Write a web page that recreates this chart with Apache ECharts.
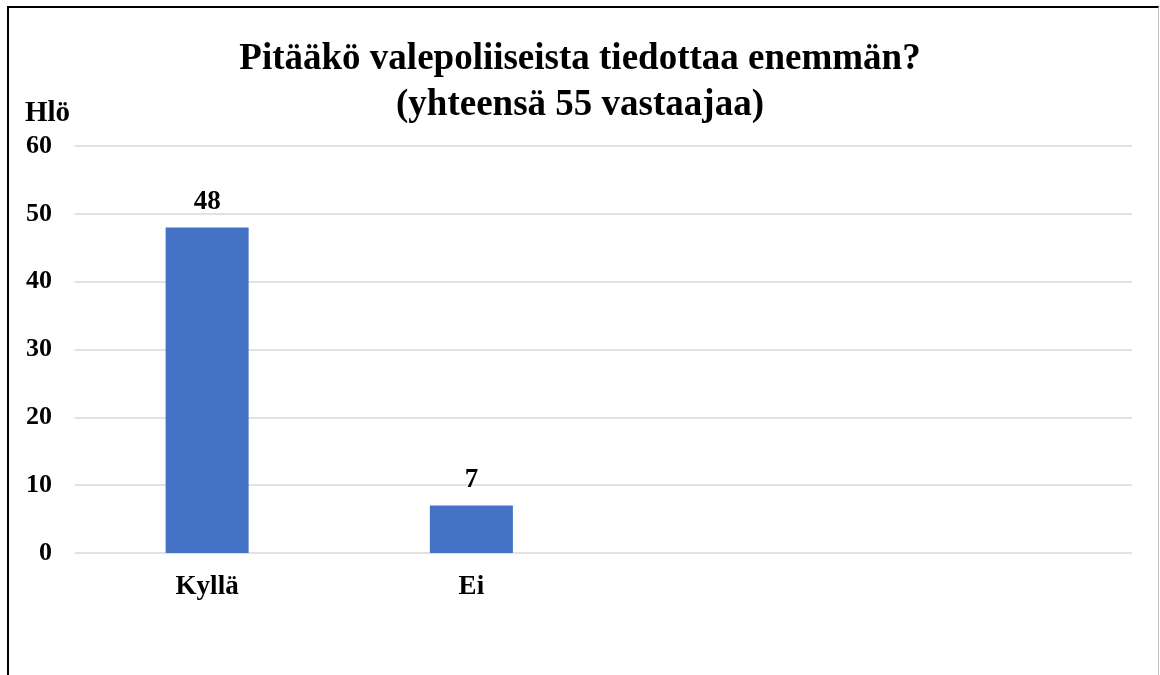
<!DOCTYPE html>
<html>
<head>
<meta charset="utf-8">
<script src="https://cdn.jsdelivr.net/npm/echarts@6/dist/echarts.min.js"></script>
<style>
  html, body { margin: 0; padding: 0; background: #fff; overflow: hidden; }
  #frame {
    position: absolute; left: 7px; top: 6px; width: 1149px; height: 700px;
    border-top: 2px solid #000; border-left: 2px solid #000; border-right: 1px solid #bfbfbf;
  }
  #chart { position: absolute; left: 0; top: 0; width: 1160px; height: 675px; }
</style>
</head>
<body>
<div id="frame"></div>
<div id="chart"></div>
<script>
'use strict';

var categories = ['Kyllä', 'Ei', '', ''],
    answers = [48, 7],
    yTicks = [0, 10, 20, 30, 40, 50, 60];

var chart = echarts.init(document.getElementById('chart'));

var serif = '"Liberation Serif", "DejaVu Serif", serif';

var option = {
    backgroundColor: 'transparent',
    animation: false,
    title: [{
        text: 'Pitääkö valepoliiseista tiedottaa enemmän?\n(yhteensä 55 vastaajaa)',
        left: 'center',
        top: 31,
        textStyle: {
            fontFamily: serif,
            fontWeight: 'bold',
            fontSize: 37,
            lineHeight: 46,
            color: '#000'
        }
    }, {
        text: 'Hlö',
        left: 20,
        top: 94,
        textStyle: {
            fontFamily: serif,
            fontWeight: 'bold',
            fontSize: 29,
            color: '#000'
        }
    }],
    grid: {
        left: 75,
        right: 28,
        top: 146,
        bottom: 122,
        containLabel: false
    },
    xAxis: {
        type: 'category',
        data: categories,
        axisLine: { show: false },
        axisTick: { show: false },
        axisLabel: {
            margin: 21,
            fontFamily: serif,
            fontWeight: 'bold',
            fontSize: 27,
            color: '#000'
        }
    },
    yAxis: {
        type: 'value',
        min: yTicks[0],
        max: yTicks[yTicks.length - 1],
        interval: 10,
        axisLine: { show: false },
        axisTick: { show: false },
        axisLabel: {
            margin: 23,
            fontFamily: serif,
            fontWeight: 'bold',
            fontSize: 26,
            color: '#000'
        },
        splitLine: {
            lineStyle: { color: '#d9d9d9', width: 1.5 }
        }
    },
    series: [{
        type: 'bar',
        data: answers,
        barWidth: 83,
        itemStyle: { color: '#4472c4' },
        label: {
            show: true,
            position: 'top',
            distance: 12,
            fontFamily: serif,
            fontWeight: 'bold',
            fontSize: 27,
            color: '#000'
        }
    }]
};

chart.setOption(option);
</script>
</body>
</html>
